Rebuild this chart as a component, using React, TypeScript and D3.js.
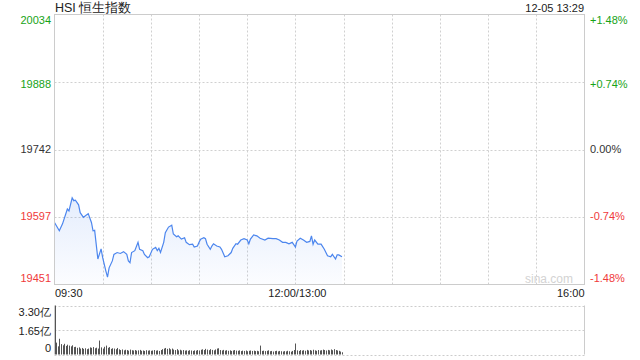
import React from "react";
import * as d3 from "d3";

const title = "HSI 恒生指数";
const stamp = "12-05 13:29";
const prevClose = 19742.5;
const leftTicks = [20034, 19888, 19742, 19597, 19451];
const rightTicks = ["+1.48%", "+0.74%", "0.00%", "-0.74%", "-1.48%"];
const tickColors = ["up", "up", "flat", "down", "down"];
const timeLabels = ["09:30", "12:00/13:00", "16:00"];
const volTicks = ["3.30亿", "1.65亿", "0"];

const priceMinutes = [0, 3, 5, 8, 9, 11, 12, 13, 15, 16, 18, 21, 23, 24, 25, 27, 29, 30, 32, 33, 34, 36, 37, 39, 41, 43, 45, 46, 47, 48, 50, 52, 53, 55, 56, 58, 59, 61, 63, 64, 65, 66, 68, 69, 71, 73, 74, 76, 77, 79, 81, 82, 84, 86, 87, 89, 90, 91, 93, 94, 95, 97, 98, 99, 101, 103, 104, 106, 108, 110, 111, 113, 114, 116, 118, 120, 121, 122, 124, 126, 128, 131, 133, 136, 138, 140, 142, 144, 146, 148, 149, 150, 151, 153, 155, 157, 159, 160, 161, 162, 164, 166, 168, 169, 170, 172, 173, 175, 176, 177, 179];
const priceValues = [19585, 19567, 19582, 19614, 19610, 19638, 19632, 19633, 19623, 19606, 19596, 19604, 19585, 19567, 19568, 19506, 19528, 19509, 19480, 19467, 19487, 19502, 19516, 19520, 19518, 19522, 19516, 19502, 19498, 19520, 19524, 19542, 19527, 19524, 19516, 19509, 19511, 19527, 19531, 19524, 19529, 19520, 19542, 19563, 19575, 19579, 19560, 19554, 19556, 19549, 19552, 19542, 19537, 19538, 19532, 19534, 19542, 19549, 19552, 19550, 19538, 19527, 19534, 19539, 19534, 19532, 19527, 19511, 19513, 19520, 19529, 19539, 19538, 19547, 19550, 19547, 19539, 19549, 19558, 19556, 19551, 19547, 19551, 19550, 19550, 19547, 19542, 19542, 19539, 19542, 19537, 19532, 19545, 19551, 19547, 19542, 19544, 19556, 19538, 19547, 19538, 19538, 19527, 19520, 19513, 19511, 19516, 19506, 19515, 19515, 19511];

const volumes = [
  3.30, 0.80, 0.55, 1.06, 0.70, 0.62, 0.72, 0.58, 0.66, 0.60,
  0.55, 0.62, 0.50, 0.52, 0.45, 0.48, 0.40, 0.44, 0.38, 0.42,
  0.36, 0.40, 0.48, 0.45, 0.50, 0.42, 0.46, 0.40, 0.94, 0.48,
  0.40, 0.52, 0.60, 0.45, 0.50, 0.38, 0.42, 0.40, 0.36, 0.44,
  0.35, 0.30, 0.34, 0.28, 0.32, 0.30, 0.26, 0.33, 0.29, 0.27,
  0.30, 0.26, 0.28, 0.31, 0.25, 0.27, 0.24, 0.29, 0.26, 0.28,
  0.25, 0.27, 0.30, 0.26, 0.28, 0.24, 0.30, 0.36, 0.40, 0.44,
  0.38, 0.42, 0.35, 0.40, 0.33, 0.30, 0.36, 0.28, 0.32, 0.27,
  0.30, 0.26, 0.28, 0.25, 0.29, 0.27, 0.24, 0.28, 0.26, 0.30,
  0.27, 0.32, 0.35, 0.30, 0.38, 0.33, 0.29, 0.36, 0.31, 0.28,
  0.34, 0.40, 0.42, 0.30, 0.27, 0.31, 0.26, 0.29, 0.25, 0.28,
  0.24, 0.27, 0.30, 0.26, 0.25, 0.28, 0.23, 0.26, 0.24, 0.27,
  0.22, 0.25, 0.27, 0.24, 0.26, 0.23, 0.25, 0.22, 0.60, 0.24,
  0.26, 0.23, 0.25, 0.28, 0.22, 0.24, 0.20, 0.23, 0.25, 0.21,
  0.24, 0.22, 0.20, 0.23, 0.21, 0.25, 0.22, 0.19, 0.24, 0.30,
  0.74, 0.28, 0.24, 0.30, 0.26, 0.29, 0.25, 0.31, 0.27, 0.30,
  0.26, 0.32, 0.28, 0.25, 0.30, 0.27, 0.29, 0.33, 0.30, 0.27,
  0.31, 0.28, 0.34, 0.29, 0.36, 0.30, 0.27, 0.25, 0.20, 0.15,
];

const UP = "#17a317";
const DOWN = "#f03a3a";
const FLAT = "#333";
const FONT = "'Liberation Sans', Arial, sans-serif";

export default function App() {
  const left = 54.5;
  const right = 584.5;
  const top = 14.5;
  const bottom = 284.5;
  const vTop = 305.5;
  const vBottom = 354.5;

  const x = d3.scaleLinear().domain([0, 330]).range([left, right]);
  const y = d3.scaleLinear().domain([19451, 20034]).range([bottom, top]);
  const yv = d3.scaleLinear().domain([0, 3.3]).range([vBottom, vTop]);

  const pts: [number, number][] = priceMinutes.map((m, i) => [m, priceValues[i]]);
  const line = d3.line<[number, number]>().x((d) => x(d[0])).y((d) => y(d[1]));
  const area = d3
    .area<[number, number]>()
    .x((d) => x(d[0]))
    .y0(bottom)
    .y1((d) => y(d[1]));

  const gridX = d3.range(1, 11).map((k) => x(k * 30));
  const gridY = [leftTicks[1], leftTicks[2], leftTicks[3]].map((v) => Math.round(y(v)) + 0.5);
  const labelY = [20, 84, 149, 216, 278];
  const volLabelY = [312, 331, 348];
  const col = (c: string) => (c === "up" ? UP : c === "down" ? DOWN : FLAT);

  return (
    <svg
      width={640}
      height={360}
      style={{ position: "absolute", left: 0, top: 0, background: "#fff" }}
      fontFamily={FONT}
    >
      <defs>
        <linearGradient id="fillg" x1="0" y1="0" x2="0" y2="1">
          <stop offset="0%" stopColor="#5b8ff0" stopOpacity={0.16} />
          <stop offset="100%" stopColor="#5b8ff0" stopOpacity={0.02} />
        </linearGradient>
      </defs>
      <text x={55} y={12} fontSize={12.5} fill="#222">{title}</text>
      <text x={584} y={11.5} fontSize={11} fill="#222" textAnchor="end">{stamp}</text>

      {/* grid */}
      {gridX.map((gx, i) => (
        <line key={"gx" + i} x1={Math.round(gx) + 0.5} x2={Math.round(gx) + 0.5} y1={top} y2={bottom} stroke="#d0d0d0" strokeDasharray="2,2" />
      ))}
      {gridY.map((gy, i) => (
        <line key={"gy" + i} x1={left} x2={right} y1={gy} y2={gy} stroke="#d0d0d0" strokeDasharray="2,2" />
      ))}

      {/* watermark */}
      <text x={573} y={283} fontSize={12} fill="#d3d3d3" textAnchor="end">sina.com</text>

      <path d={area(pts) || ""} fill="url(#fillg)" />
      <path d={line(pts) || ""} fill="none" stroke="#4c86ee" strokeWidth={1.2} />

      <rect x={left} y={top} width={right - left} height={bottom - top} fill="none" stroke="#cccccc" />

      {leftTicks.map((t, i) => (
        <text key={"l" + i} x={51} y={labelY[i]} dy="0.35em" fontSize={11} fill={col(tickColors[i])} textAnchor="end">{t}</text>
      ))}
      {rightTicks.map((t, i) => (
        <text key={"r" + i} x={590} y={labelY[i]} dy="0.35em" fontSize={11} fill={col(tickColors[i])}>{t}</text>
      ))}

      <text x={55} y={297} fontSize={11} fill="#222">{timeLabels[0]}</text>
      <text x={x(150) + 2} y={297} fontSize={11} fill="#222" textAnchor="middle">{timeLabels[1]}</text>
      <text x={584.5} y={297} fontSize={11} fill="#222" textAnchor="end">{timeLabels[2]}</text>

      {/* volume panel */}
      {[vTop, (vTop + vBottom) / 2, vBottom].map((gy, i) => (
        <line key={"vg" + i} x1={left} x2={right} y1={Math.round(gy) + 0.5} y2={Math.round(gy) + 0.5} stroke="#cccccc" strokeDasharray="2,2" />
      ))}
      <line x1={left} x2={left} y1={vTop} y2={vBottom} stroke="#cccccc" />
      <line x1={right} x2={right} y1={vTop} y2={vBottom} stroke="#cccccc" />
      {volumes.map((v, i) => (
        <rect key={"v" + i} x={Math.round(x(i))} y={yv(v)} width={1} height={vBottom - yv(v)} fill="#555" />
      ))}
      {volTicks.map((t, i) => (
        <text key={"vt" + i} x={51} y={volLabelY[i]} dy="0.35em" fontSize={11} fill="#222" textAnchor="end">{t}</text>
      ))}
    </svg>
  );
}
